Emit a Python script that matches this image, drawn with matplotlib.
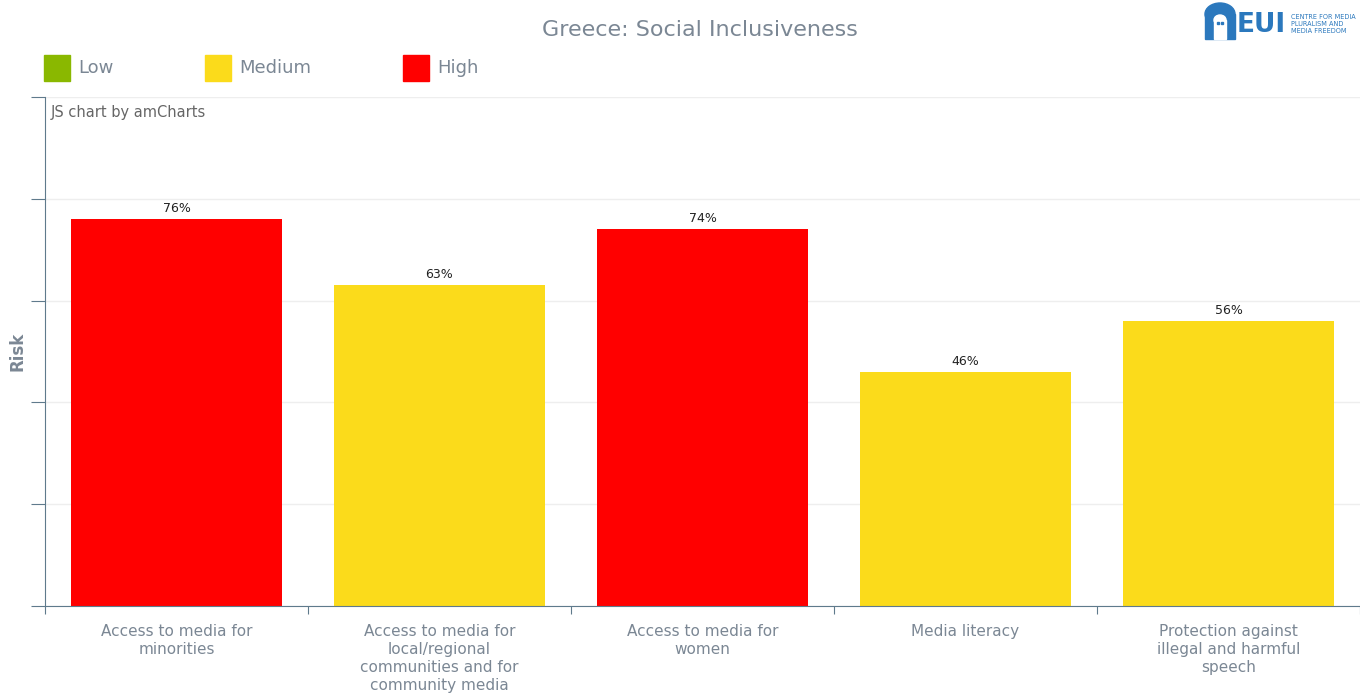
import numpy as np
import matplotlib.pyplot as plt
import matplotlib.patches as mpatches

# Data
categories = [
    "Access to media for\nminorities",
    "Access to media for\nlocal/regional\ncommunities and for\ncommunity media",
    "Access to media for\nwomen",
    "Media literacy",
    "Protection against\nillegal and harmful\nspeech",
]
risk_values = [76, 63, 74, 46, 56]
risk_levels = ["High", "Medium", "High", "Medium", "Medium"]

level_names = ["Low", "Medium", "High"]
level_colors = {"Low": "#8ab800", "Medium": "#fbdb1b", "High": "#ff0000"}

grey_text = "#7b8794"
axis_color = "#5f7a8c"

fig = plt.figure(figsize=(13.6, 6.93), dpi=100)
ax = fig.add_axes([45 / 1360, 87 / 693, 1 - 45 / 1360, 509 / 693])

x = np.arange(len(categories))
bars = ax.bar(x, risk_values, width=0.8,
              color=[level_colors[l] for l in risk_levels], zorder=2)

for xi, v in zip(x, risk_values):
    ax.text(xi, v + 0.8, f"{v}%", ha="center", va="bottom",
            fontsize=9, color="#222222")

ax.set_xlim(-0.5, len(categories) - 0.5)
ax.set_ylim(0, 100)
ax.set_yticks(np.arange(0, 101, 20))
ax.set_yticklabels([])
ax.yaxis.grid(True, color="#eeeeee", linewidth=1, zorder=0)
ax.tick_params(axis="y", length=10, color=axis_color, direction="out")

# x ticks at category boundaries, labels at centers
ax.set_xticks(np.arange(-0.5, len(categories), 1.0))
ax.set_xticklabels([])
ax.tick_params(axis="x", length=6, color=axis_color, direction="out")
for xi, lab in zip(x, categories):
    ax.text(xi, -3.6, lab, ha="center", va="top", fontsize=11,
            color=grey_text, linespacing=1.25)

for s in ["top", "right"]:
    ax.spines[s].set_visible(False)
ax.spines["left"].set_color(axis_color)
ax.spines["bottom"].set_color(axis_color)

fig.text(18 / 1360, 1 - 351 / 693, "Risk", rotation=90, ha="center",
         va="center", fontsize=12, fontweight="bold", color=grey_text)

ax.text(0.004, 0.985, "JS chart by amCharts", transform=ax.transAxes,
        fontsize=10.5, color="#666666", va="top", ha="left")

# title
fig.text(700 / 1360, 1 - 30 / 693, "Greece: Social Inclusiveness",
         ha="center", va="center", fontsize=16, color=grey_text)

# legend
legend_x = [44, 205, 403]
for lx, name in zip(legend_x, level_names):
    fig.patches.append(mpatches.Rectangle(
        (lx / 1360, 1 - 81 / 693), 26 / 1360, 26 / 693,
        transform=fig.transFigure, color=level_colors[name]))
    fig.text((lx + 34) / 1360, 1 - 68 / 693, name, ha="left", va="center",
             fontsize=13, color=grey_text)

# logo: solid arch with a door cut out
logo_blue = "#2b78bd"


def fx(px):
    return px / 1360


def fy(py):
    return 1 - py / 693


fig.patches.append(mpatches.Rectangle(
    (fx(1205), fy(39)), fx(30), 25 / 693,
    transform=fig.transFigure, color=logo_blue))
fig.patches.append(mpatches.Ellipse(
    (fx(1220), fy(14)), fx(30), 22 / 693,
    transform=fig.transFigure, color=logo_blue))
fig.patches.append(mpatches.Rectangle(
    (fx(1214), fy(39)), fx(12), 19 / 693,
    transform=fig.transFigure, color="white"))
fig.patches.append(mpatches.Ellipse(
    (fx(1220), fy(20)), fx(12), 10 / 693,
    transform=fig.transFigure, color="white"))
fig.patches.append(mpatches.Rectangle(
    (fx(1217), fy(24)), fx(2), 2 / 693,
    transform=fig.transFigure, color=logo_blue))
fig.patches.append(mpatches.Rectangle(
    (fx(1221), fy(24)), fx(2), 2 / 693,
    transform=fig.transFigure, color=logo_blue))
fig.text(fx(1237), fy(25), "EUI", ha="left", va="center",
         fontsize=19, fontweight="bold", color=logo_blue)
fig.text(fx(1291), fy(24),
         "CENTRE FOR MEDIA\nPLURALISM AND\nMEDIA FREEDOM",
         ha="left", va="center", fontsize=4.7, color=logo_blue,
         linespacing=1.15)

fig.savefig("out.png", dpi=100)
